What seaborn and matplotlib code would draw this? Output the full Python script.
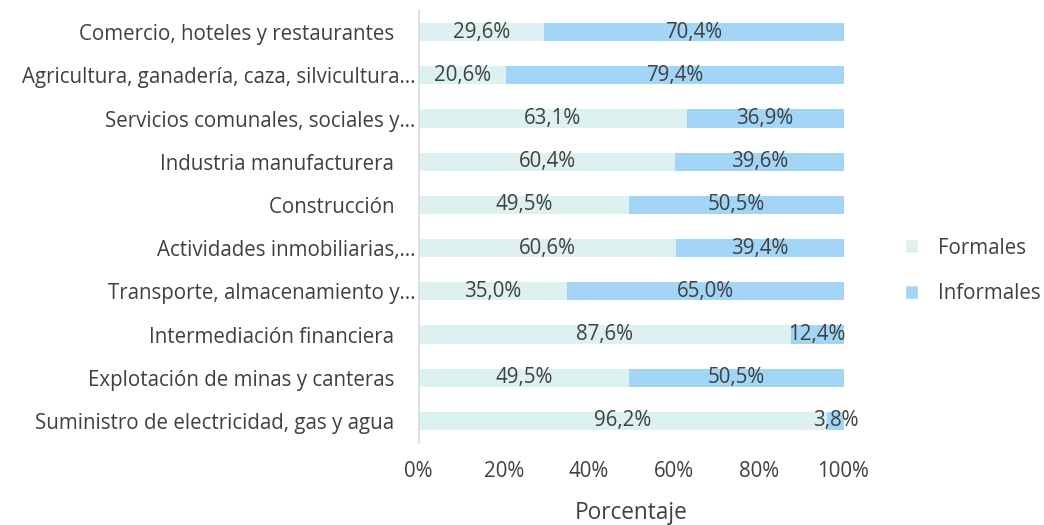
import matplotlib
matplotlib.use("Agg")
import matplotlib.pyplot as plt
import seaborn as sns
import pandas as pd
from matplotlib.patches import Patch

categories = [
    "Comercio, hoteles y restaurantes",
    "Agricultura, ganadería, caza, silvicultura…",
    "Servicios comunales, sociales y…",
    "Industria manufacturera",
    "Construcción",
    "Actividades inmobiliarias,…",
    "Transporte, almacenamiento y…",
    "Intermediación financiera",
    "Explotación de minas y canteras",
    "Suministro de electricidad, gas y agua",
]
formales = [29.6, 20.6, 63.1, 60.4, 49.5, 60.6, 35.0, 87.6, 49.5, 96.2]
informales = [70.4, 79.4, 36.9, 39.6, 50.5, 39.4, 65.0, 12.4, 50.5, 3.8]
xticks = [0, 20, 40, 60, 80, 100]

c_form = "#DDF2F0"
c_inf = "#A3D5F7"
txt = "#404040"

sns.set_theme(style="white")
plt.rcParams["font.family"] = ["Open Sans", "DejaVu Sans"]

df = pd.DataFrame({"cat": categories, "Formales": formales, "Informales": informales})
df["total"] = df["Formales"] + df["Informales"]

fig = plt.figure(figsize=(10.44, 5.25), dpi=100)
ax = fig.add_axes([0.401, 0.157, 0.407, 0.823])

sns.barplot(data=df, y="cat", x="total", color=c_inf, width=0.42, ax=ax,
            saturation=1, orient="h", edgecolor="none")
sns.barplot(data=df, y="cat", x="Formales", color=c_form, width=0.42, ax=ax,
            saturation=1, orient="h", edgecolor="none")

fs = 14.8
for i, (f, inf) in enumerate(zip(formales, informales)):
    ax.text(f / 2, i, f"{f:.1f}%".replace(".", ","), ha="center", va="center",
            fontsize=fs, color=txt)
    ax.text(f + inf / 2, i, f"{inf:.1f}%".replace(".", ","), ha="center", va="center",
            fontsize=fs, color=txt)

ax.set_xlim(0, 100)
ax.set_ylim(9.5, -0.5)
ax.set_xticks(xticks)
ax.set_xticklabels([f"{t}%" for t in xticks], fontsize=fs, color=txt)
# Excel labels: full names carry a trailing space, truncated names end with "…"
ax.set_yticks(range(len(categories)))
ax.set_yticklabels([c if c.endswith("…") else c + "\u00a0\u00a0\u00a0\u00a0" for c in categories])
ax.tick_params(axis="y", labelsize=fs, colors=txt, length=0, pad=2)
ax.tick_params(axis="x", length=0, pad=13)
ax.set_ylabel("")
ax.set_xlabel("Porcentaje", fontsize=16.3, color=txt, labelpad=14)
for s in ["top", "right", "bottom"]:
    ax.spines[s].set_visible(False)
ax.spines["left"].set_color("#D9D9D9")
ax.spines["left"].set_linewidth(1.2)

handles = [Patch(facecolor=c_form, label="Formales"), Patch(facecolor=c_inf, label="Informales")]
fig.legend(handles=handles, loc="center left", bbox_to_anchor=(0.849, 0.484), frameon=False,
           fontsize=fs, labelcolor=txt, handlelength=0.65, handleheight=0.65,
           labelspacing=1.2, handletextpad=0.95)

fig.savefig("out.png", dpi=100)
